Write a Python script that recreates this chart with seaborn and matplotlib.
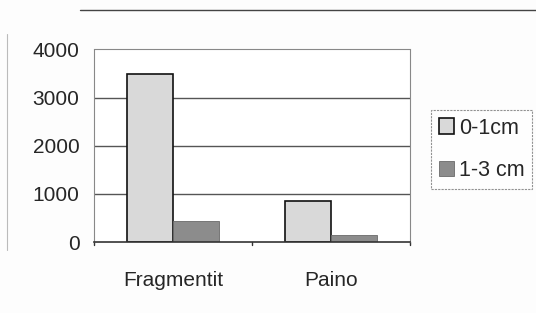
import matplotlib
matplotlib.use("Agg")
import matplotlib.pyplot as plt
import seaborn as sns
import pandas as pd
from matplotlib.lines import Line2D

categories = ["Fragmentit", "Paino"]
series_names = ["0-1cm", "1-3 cm"]
values_0_1 = [3500, 850]
values_1_3 = [430, 150]
yticks = [0, 1000, 2000, 3000, 4000]

df = pd.DataFrame({
    "cat": categories * 2,
    "series": [series_names[0]] * 2 + [series_names[1]] * 2,
    "value": values_0_1 + values_1_3,
})

sns.set_theme(style="white")
plt.rcParams["font.family"] = ["Liberation Sans", "DejaVu Sans"]

fig = plt.figure(figsize=(5.36, 3.13), dpi=100)
fig.patch.set_facecolor("#fdfdfd")
ax = fig.add_axes([0.1754, 0.2268, 0.765 - 0.1754, 0.842 - 0.2268])
ax.set_facecolor("white")

palette = {series_names[0]: "#d9d9d9", series_names[1]: "#8c8c8c"}
sns.barplot(data=df, x="cat", y="value", hue="series", palette=palette,
            width=0.58, ax=ax, legend=False, saturation=1)

for i, p in enumerate(ax.patches):
    if i < 2:
        p.set_edgecolor("#111111")
        p.set_linewidth(1.2)
    else:
        p.set_edgecolor("#6a6a6a")
        p.set_linewidth(0.6)

ax.set_ylim(0, 4000)
ax.set_xlim(-0.5, 1.5)
ax.set_yticks(yticks)
ax.set_yticklabels([str(v) for v in yticks], fontsize=15)
ax.tick_params(axis="y", length=0, pad=10.5)
ax.tick_params(axis="x", length=0, pad=21, labelsize=15)
ax.set_xlabel("")
ax.set_ylabel("")

for v in yticks[1:-1]:
    ax.axhline(v, color="#555555", lw=1.0, zorder=0.5)

for s in ["top", "right", "left"]:
    ax.spines[s].set_visible(True)
    ax.spines[s].set_color("#888888")
    ax.spines[s].set_linewidth(0.8)
    ax.spines[s].set_linestyle((0, (1, 1)))
ax.spines["bottom"].set_color("#333333")
ax.spines["bottom"].set_linewidth(1.2)

for xv in [-0.5, 0.5, 1.5]:
    ax.plot([xv, xv], [0, -60], color="#333333", lw=1, clip_on=False)

fig.add_artist(Line2D([0.15, 1.0], [0.969, 0.969], color="#444444", lw=1.0,
                      transform=fig.transFigure))
fig.add_artist(Line2D([0.013, 0.013], [0.2, 0.89], color="#bbbbbb", lw=0.8,
                      transform=fig.transFigure))

handles = [plt.Rectangle((0, 0), 1, 1, facecolor=palette[series_names[0]], edgecolor="#111111", lw=1.2),
           plt.Rectangle((0, 0), 1, 1, facecolor=palette[series_names[1]], edgecolor="#6a6a6a", lw=0.6)]
leg = fig.legend(handles, series_names, loc="upper left",
                 bbox_to_anchor=(431 / 536, 1 - 110 / 313), fontsize=15.5,
                 frameon=True, fancybox=False, handlelength=0.7, handleheight=0.75,
                 handletextpad=0.25, borderpad=0.35, labelspacing=1.0, borderaxespad=0)
leg.get_frame().set_edgecolor("#777777")
leg.get_frame().set_linewidth(0.8)
leg.get_frame().set_linestyle((0, (2, 1)))

fig.savefig("out.png", dpi=100, facecolor=fig.get_facecolor())
